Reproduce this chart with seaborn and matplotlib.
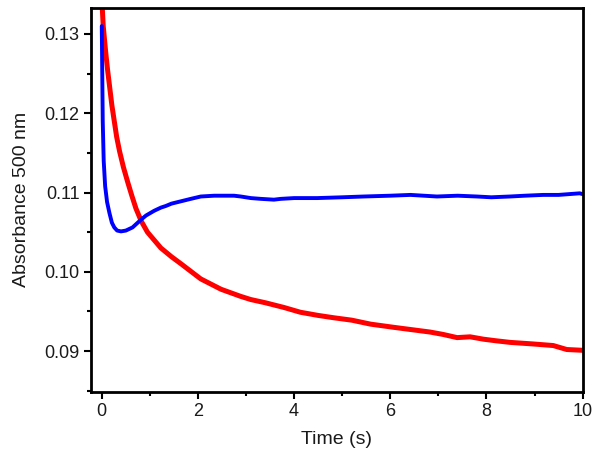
import seaborn as sns
import pandas as pd
import matplotlib
matplotlib.use("Agg")
import matplotlib.pyplot as plt
from matplotlib.ticker import MultipleLocator

# red trace
red_time = [0.0, 0.03, 0.08, 0.12, 0.17, 0.21, 0.26, 0.31, 0.37, 0.45, 0.54, 0.62,
            0.71, 0.82, 0.95, 1.23, 1.45, 1.65, 2.06, 2.48, 2.89, 3.1, 3.4, 3.79,
            4.13, 4.5, 4.83, 5.2, 5.59, 6.07, 6.45, 6.83, 7.1, 7.39, 7.66, 7.94,
            8.2, 8.49, 8.97, 9.39, 9.67, 10.0]
red_abs = [0.1345, 0.1310, 0.1278, 0.1255, 0.1230, 0.1210, 0.1190, 0.1170, 0.1152,
           0.1132, 0.1113, 0.1097, 0.1080, 0.1064, 0.1050, 0.1030, 0.1019, 0.1010,
           0.0991, 0.0978, 0.0969, 0.0965, 0.0961, 0.0955, 0.0949, 0.0945, 0.0942,
           0.0939, 0.0934, 0.0930, 0.0927, 0.0924, 0.0921, 0.0917, 0.0918, 0.0915,
           0.0913, 0.0911, 0.0909, 0.0907, 0.0902, 0.0901]

# blue trace
blue_time = [0.0, 0.01, 0.02, 0.04, 0.07, 0.11, 0.16, 0.21, 0.26, 0.32, 0.40, 0.50,
             0.64, 0.82, 0.92, 1.09, 1.23, 1.33, 1.45, 1.65, 1.85, 2.06, 2.34, 2.48,
             2.75, 2.89, 3.1, 3.31, 3.58, 3.72, 4.0, 4.48, 5.0, 5.45, 6.0, 6.42,
             6.97, 7.4, 7.8, 8.1, 8.49, 8.8, 9.18, 9.5, 9.94, 10.0]
blue_abs = [0.1310, 0.1250, 0.1190, 0.1140, 0.1108, 0.1088, 0.1074, 0.1062, 0.1056,
            0.1052, 0.1051, 0.1052, 0.1056, 0.1066, 0.1071, 0.1077, 0.1081, 0.1083,
            0.1086, 0.1089, 0.1092, 0.1095, 0.1096, 0.1096, 0.1096, 0.1095, 0.1093,
            0.1092, 0.1091, 0.1092, 0.1093, 0.1093, 0.1094, 0.1095, 0.1096, 0.1097,
            0.1095, 0.1096, 0.1095, 0.1094, 0.1095, 0.1096, 0.1097, 0.1097, 0.1099,
            0.1098]

red = pd.DataFrame({"Time (s)": red_time, "Absorbance": red_abs})
blue = pd.DataFrame({"Time (s)": blue_time, "Absorbance": blue_abs})

sns.set_theme(style="ticks")
plt.rcParams["font.family"] = ["Liberation Sans", "DejaVu Sans"]

fig = plt.figure(figsize=(6, 4.59), dpi=100)
ax = fig.add_axes([0.152, 0.147, 0.819, 0.836])

sns.lineplot(data=red, x="Time (s)", y="Absorbance", color="#FF0000", linewidth=3.6, ax=ax)
sns.lineplot(data=blue, x="Time (s)", y="Absorbance", color="#0000FF", linewidth=2.8, ax=ax)

ax.set_xlim(-0.22, 10)
ax.set_ylim(0.0849, 0.1333)
ax.xaxis.set_major_locator(MultipleLocator(2))
ax.xaxis.set_minor_locator(MultipleLocator(1))
ax.yaxis.set_major_locator(MultipleLocator(0.01))
ax.yaxis.set_minor_locator(MultipleLocator(0.005))
ax.yaxis.set_major_formatter(matplotlib.ticker.FormatStrFormatter("%.2f"))

for s in ax.spines.values():
    s.set_linewidth(2)
    s.set_color("black")
ax.tick_params(which="major", length=5, width=1.5, labelsize=13, colors="black", labelcolor="#1a1a1a")
ax.tick_params(which="minor", length=3, width=1.5, colors="black")

ax.set_xlabel("Time (s)", fontsize=14, color="#1a1a1a", labelpad=8)
ax.set_ylabel("Absorbance 500 nm", fontsize=14, color="#1a1a1a", labelpad=10)
ax.grid(False)

fig.savefig("out.png", dpi=100)
